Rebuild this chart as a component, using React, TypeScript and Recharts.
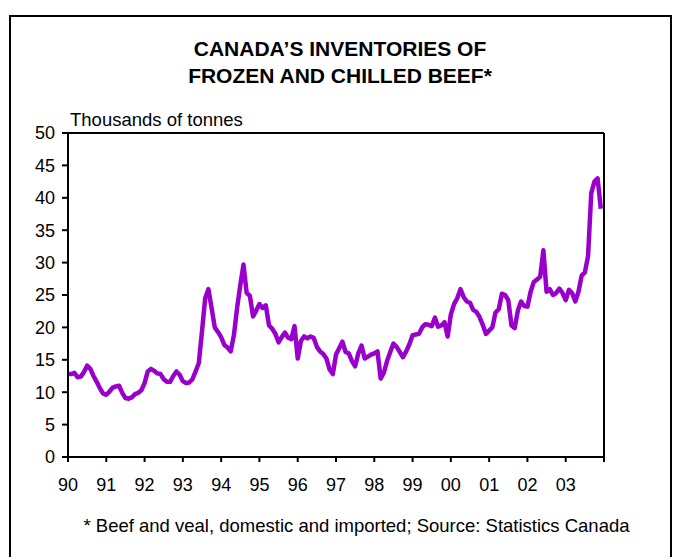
import { LineChart, Line, XAxis, YAxis, ReferenceLine } from "recharts";

// Year labels under the axis (Jan of each year), 1990-2003
const yearLabels = ["90", "91", "92", "93", "94", "95", "96", "97", "98", "99", "00", "01", "02", "03"];
const valueTicks = [0, 5, 10, 15, 20, 25, 30, 35, 40, 45, 50];

// Monthly inventories, thousands of tonnes, Jan 1990 - Dec 2003
const inventory = [
  12.8, 12.8, 13.0, 12.3, 12.4, 13.1, 14.1, 13.6, 12.5, 11.6, 10.6, 9.8, // 1990
  9.6, 10.1, 10.7, 10.9, 11.0, 9.9, 9.1, 9.0, 9.2, 9.7, 9.9, 10.3, // 1991
  11.4, 13.2, 13.6, 13.3, 12.9, 12.8, 12.0, 11.6, 11.6, 12.5, 13.2, 12.7, // 1992
  11.7, 11.4, 11.5, 12.0, 13.2, 14.5, 19.4, 24.5, 25.9, 23.0, 20.0, 19.3, // 1993
  18.5, 17.3, 16.9, 16.3, 18.8, 23.0, 26.5, 29.7, 25.3, 24.9, 21.7, 22.6, // 1994
  23.6, 23.0, 23.4, 20.3, 19.8, 19.0, 17.7, 18.5, 19.2, 18.4, 18.2, 20.2, // 1995
  15.2, 17.9, 18.6, 18.3, 18.6, 18.4, 17.0, 16.3, 15.9, 15.2, 13.5, 12.8, // 1996
  15.8, 16.8, 17.8, 16.2, 16.0, 14.8, 14.0, 16.0, 17.2, 15.2, 15.5, 15.8, // 1997
  16.0, 16.3, 12.1, 13.0, 14.8, 16.2, 17.5, 17.0, 16.2, 15.4, 16.3, 17.4, // 1998
  18.8, 18.9, 19.0, 20.0, 20.5, 20.4, 20.2, 21.5, 20.1, 20.3, 20.8, 18.6, // 1999
  22.0, 23.6, 24.5, 25.9, 24.7, 24.0, 23.8, 22.7, 22.4, 21.6, 20.4, 19.0, // 2000
  19.5, 20.0, 22.3, 22.8, 25.2, 25.0, 24.2, 20.3, 19.9, 22.6, 24.0, 23.3, // 2001
  23.2, 25.5, 27.0, 27.4, 27.8, 31.9, 25.5, 25.9, 25.0, 25.3, 26.0, 25.3, // 2002
  24.2, 25.8, 25.3, 24.0, 25.5, 28.0, 28.5, 31.0, 40.7, 42.5, 43.0, 38.3, // 2003
];

const data = inventory.map((v, i) => ({ t: 1990 + i / 12, v }));
const yearTicks = [...yearLabels.map((_, k) => 1990 + k), 2004];

const FONT = '"Liberation Sans", Arial, sans-serif';
const tickStyle = { fill: "#000", fontSize: 18, fontFamily: FONT };

function yearLabel(v: number) {
  const k = Math.round(v) - 1990;
  return yearLabels[k] ?? "";
}

export default function App() {
  return (
    <div
      style={{
        position: "absolute",
        left: 0,
        top: 0,
        width: 680,
        height: 557,
        overflow: "hidden",
        background: "#fff",
        fontFamily: FONT,
      }}
    >
      <div
        style={{
          position: "absolute",
          left: 9,
          top: 15,
          width: 663,
          height: 600,
          border: "2px solid #000",
          boxSizing: "border-box",
        }}
      />
      <div
        style={{
          position: "absolute",
          left: 0,
          width: 680,
          top: 35,
          textAlign: "center",
          fontWeight: "bold",
          fontSize: 21,
          lineHeight: "27px",
          color: "#000",
        }}
      >
        CANADA’S INVENTORIES OF
        <br />
        FROZEN AND CHILLED BEEF*
      </div>
      <div style={{ position: "absolute", left: 70, top: 110, fontSize: 18.5, lineHeight: "20px", color: "#000" }}>
        Thousands of tonnes
      </div>
      <LineChart
        width={680}
        height={557}
        data={data}
        margin={{ top: 133, right: 26, bottom: 70, left: 18 }}
        style={{ position: "absolute", left: 0, top: 0 }}
      >
        <XAxis
          dataKey="t"
          type="number"
          domain={[1990, 2004]}
          ticks={yearTicks}
          tickFormatter={yearLabel}
          interval={0}
          height={30}
          stroke="#000"
          strokeWidth={2}
          tickSize={5}
          tickMargin={16}
          tick={tickStyle}
        />
        <YAxis
          yAxisId="left"
          domain={[0, 50]}
          ticks={valueTicks}
          interval={0}
          width={50}
          stroke="#000"
          strokeWidth={2}
          tickSize={6}
          tickMargin={7}
          tick={tickStyle}
        />
        <YAxis
          yAxisId="right"
          orientation="right"
          domain={[0, 50]}
          ticks={valueTicks}
          interval={0}
          width={50}
          stroke="#000"
          strokeWidth={2}
          tickSize={6}
          tickMargin={8}
          tick={tickStyle}
        />
        <ReferenceLine yAxisId="left" y={50} stroke="#000" strokeWidth={2} />
        <Line
          yAxisId="left"
          dataKey="v"
          type="linear"
          stroke="#9900cc"
          strokeWidth={4.5}
          strokeLinejoin="round"
          dot={false}
          activeDot={false}
          isAnimationActive={false}
        />
      </LineChart>
      <div
        style={{
          position: "absolute",
          left: 0,
          width: 680,
          top: 515,
          textAlign: "center",
          fontSize: 18.5,
          lineHeight: "22px",
          color: "#000",
          paddingLeft: 33,
          boxSizing: "border-box",
        }}
      >
        * Beef and veal, domestic and imported; Source: Statistics Canada
      </div>
    </div>
  );
}
